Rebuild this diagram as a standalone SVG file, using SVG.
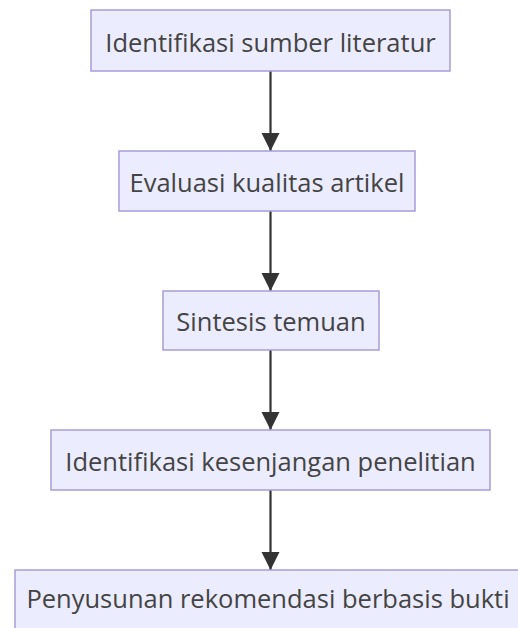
<svg xmlns="http://www.w3.org/2000/svg" width="518" height="628" viewBox="0 0 518 628">
  <defs>
    <style>
      .box { fill: #ECECFF; stroke: #A89CDA; stroke-width: 1.5; }
      .lbl { font-family: "Open Sans", "Noto Sans", sans-serif; font-size: 25.5px; fill: #444; text-anchor: middle; }
      .edge { stroke: #333; stroke-width: 2.2; fill: none; }
    </style>
    <marker id="arrow" viewBox="0 0 10 10" refX="10" refY="5" markerUnits="userSpaceOnUse" markerWidth="18" markerHeight="20" orient="auto">
      <path d="M0,0 L10,5 L0,10 z" fill="#333"/>
    </marker>
  </defs>
  <rect width="518" height="628" fill="#fff"/>
  <g id="connectors">
    <line class="edge" x1="270.5" y1="71" x2="270.5" y2="151" marker-end="url(#arrow)"/>
    <line class="edge" x1="270.5" y1="211" x2="270.5" y2="291" marker-end="url(#arrow)"/>
    <line class="edge" x1="270.5" y1="350" x2="270.5" y2="430" marker-end="url(#arrow)"/>
    <line class="edge" x1="270.5" y1="490" x2="270.5" y2="570" marker-end="url(#arrow)"/>
  </g>
  <g id="n1">
    <rect class="box" x="91" y="10" width="359" height="61"/>
    <text class="lbl" x="270.5" y="52">Identifikasi sumber literatur</text>
  </g>
  <g id="n2">
    <rect class="box" x="119" y="151" width="296" height="60"/>
    <text class="lbl" x="267" y="192">Evaluasi kualitas artikel</text>
  </g>
  <g id="n3">
    <rect class="box" x="163" y="291" width="216" height="59"/>
    <text class="lbl" x="271" y="331">Sintesis temuan</text>
  </g>
  <g id="n4">
    <rect class="box" x="51" y="430" width="439" height="60"/>
    <text class="lbl" x="270.5" y="471">Identifikasi kesenjangan penelitian</text>
  </g>
  <g id="n5">
    <rect class="box" x="15" y="570" width="511" height="60"/>
    <text class="lbl" x="268" y="608">Penyusunan rekomendasi berbasis bukti</text>
  </g>
</svg>
